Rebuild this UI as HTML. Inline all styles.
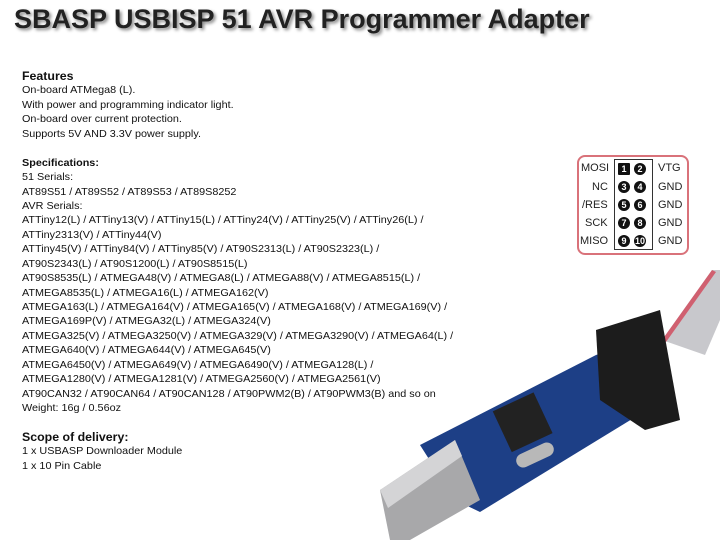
<!DOCTYPE html>
<html><head><meta charset="utf-8"><style>
body{margin:0;width:720px;height:540px;background:#fff;overflow:hidden;position:relative;font-family:"Liberation Sans",sans-serif;color:#111}
.t{position:absolute;left:14px;top:4px;font-size:27px;font-weight:bold;color:#222;white-space:nowrap;transform-origin:0 0;transform:scaleX(1.0);text-shadow:2px 2px 3px #888}
.tx{position:absolute;left:22px;top:69px;font-size:10.5px;white-space:nowrap;transform-origin:0 0;transform:scaleX(1.03)}
.tx div{height:14.45px;line-height:14.45px}
.b{font-weight:bold;font-size:12px}
.pin{position:absolute;font-size:11px;color:#222}
.c{position:absolute;width:12px;height:12px;border-radius:50%;background:#111;color:#fff;font-size:9px;text-align:center;line-height:12px;font-weight:bold}
</style></head><body>
<div class="t">SBASP USBISP 51 AVR Programmer Adapter</div>
<div class="tx">
<div class="b">Features</div>
<div>On-board ATMega8 (L).</div>
<div>With power and programming indicator light.</div>
<div>On-board over current protection.</div>
<div>Supports 5V AND 3.3V power supply.</div>
<div></div>
<div class="b" style="font-size:10.5px">Specifications:</div>
<div>51 Serials:</div>
<div>AT89S51 / AT89S52 / AT89S53 / AT89S8252</div>
<div>AVR Serials:</div>
<div>ATTiny12(L) / ATTiny13(V) / ATTiny15(L) / ATTiny24(V) / ATTiny25(V) / ATTiny26(L) /</div>
<div>ATTiny2313(V) / ATTiny44(V)</div>
<div>ATTiny45(V) / ATTiny84(V) / ATTiny85(V) / AT90S2313(L) / AT90S2323(L) /</div>
<div>AT90S2343(L) / AT90S1200(L) / AT90S8515(L)</div>
<div>AT90S8535(L) / ATMEGA48(V) / ATMEGA8(L) / ATMEGA88(V) / ATMEGA8515(L) /</div>
<div>ATMEGA8535(L) / ATMEGA16(L) / ATMEGA162(V)</div>
<div>ATMEGA163(L) / ATMEGA164(V) / ATMEGA165(V) / ATMEGA168(V) / ATMEGA169(V) /</div>
<div>ATMEGA169P(V) / ATMEGA32(L) / ATMEGA324(V)</div>
<div>ATMEGA325(V) / ATMEGA3250(V) / ATMEGA329(V) / ATMEGA3290(V) / ATMEGA64(L) /</div>
<div>ATMEGA640(V) / ATMEGA644(V) / ATMEGA645(V)</div>
<div>ATMEGA6450(V) / ATMEGA649(V) / ATMEGA6490(V) / ATMEGA128(L) /</div>
<div>ATMEGA1280(V) / ATMEGA1281(V) / ATMEGA2560(V) / ATMEGA2561(V)</div>
<div>AT90CAN32 / AT90CAN64 / AT90CAN128 / AT90PWM2(B) / AT90PWM3(B) and so on</div>
<div>Weight: 16g / 0.56oz</div>
<div></div>
<div class="b">Scope of delivery:</div>
<div>1 x USBASP Downloader Module</div>
<div>1 x 10 Pin Cable</div>
</div>

<div style="position:absolute;left:577px;top:155px;width:108px;height:96px;border:2px solid #d9727a;border-radius:8px"></div>
<div style="position:absolute;left:614px;top:159px;width:37px;height:89px;border:1px solid #333"></div>
<div class="pin" style="left:581px;top:162px">MOSI</div><div class="pin" style="left:658px;top:162px">VTG</div>
<div class="pin" style="left:592px;top:181px">NC</div><div class="pin" style="left:658px;top:181px">GND</div>
<div class="pin" style="left:582px;top:199px">/RES</div><div class="pin" style="left:658px;top:199px">GND</div>
<div class="pin" style="left:585px;top:217px">SCK</div><div class="pin" style="left:658px;top:217px">GND</div>
<div class="pin" style="left:580px;top:235px">MISO</div><div class="pin" style="left:658px;top:235px">GND</div>
<div class="c" style="left:618px;top:163px;border-radius:1px">1</div><div class="c" style="left:634px;top:163px">2</div>
<div class="c" style="left:618px;top:181px">3</div><div class="c" style="left:634px;top:181px">4</div>
<div class="c" style="left:618px;top:199px">5</div><div class="c" style="left:634px;top:199px">6</div>
<div class="c" style="left:618px;top:217px">7</div><div class="c" style="left:634px;top:217px">8</div>
<div class="c" style="left:618px;top:235px">9</div><div class="c" style="left:634px;top:235px">10</div>

<svg style="position:absolute;left:0;top:0" width="720" height="540">
<polygon points="662,340 712,270 720,270 720,320 705,355" fill="#c8c8cc"/>
<polygon points="662,340 712,270 716,272 666,342" fill="#d06070"/>
<polygon points="420,445 596,355 640,340 655,405 480,512 455,500" fill="#1d3f86"/>
<polygon points="596,330 660,310 680,420 645,430 600,400" fill="#1c1c1c"/>
<rect x="500" y="400" width="45" height="45" fill="#222" transform="rotate(-25 522 422)"/>
<rect x="515" y="448" width="40" height="14" rx="7" fill="#b8b8b8" transform="rotate(-25 535 455)"/>
<polygon points="380,490 455,440 480,500 410,540 390,540" fill="#a8a8aa"/>
<polygon points="380,490 455,440 462,456 388,508" fill="#d4d4d6"/>
</svg>
</body></html>
